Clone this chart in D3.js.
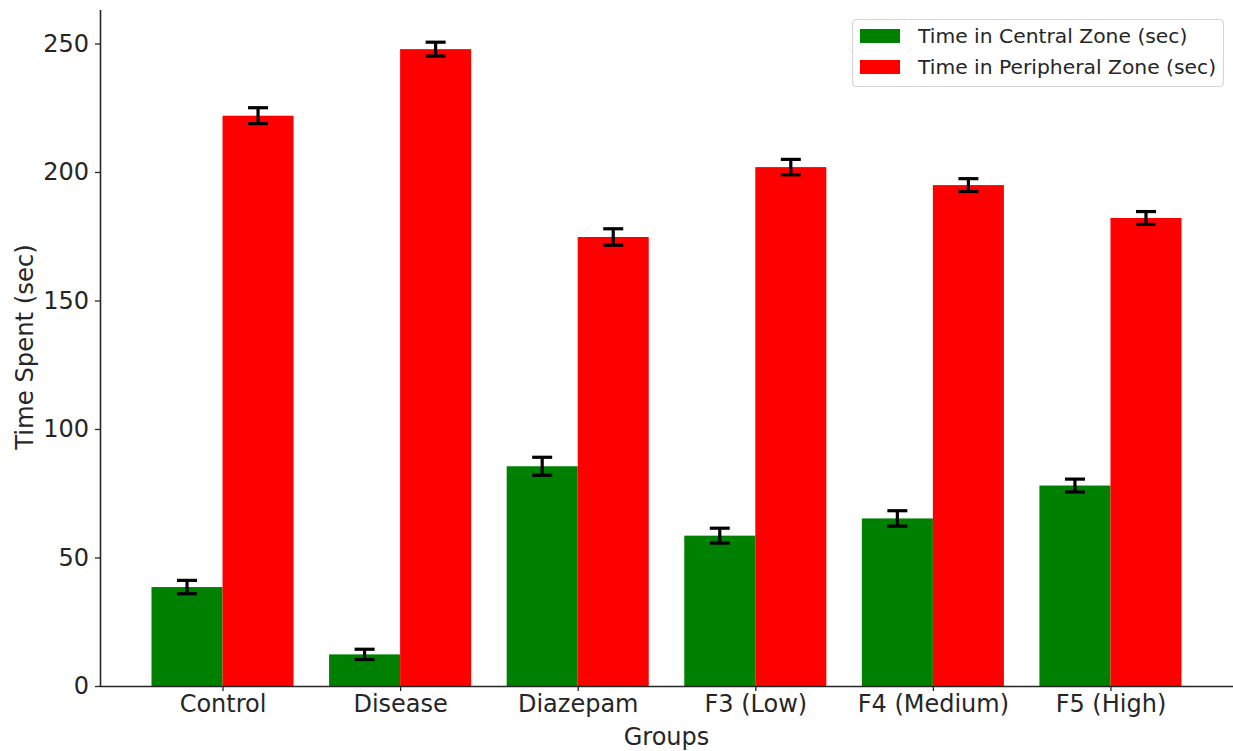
<!DOCTYPE html>
<html>
<head>
<meta charset="utf-8">
<script src="https://cdn.jsdelivr.net/npm/d3@7"></script>
<style>
  html, body { margin: 0; padding: 0; background: #fff; }
  svg { display: block; font-family: "DejaVu Sans", sans-serif; }
</style>
</head>
<body>
<svg id="chart" width="1233" height="751"></svg>
<script>
// Open-field test: time spent per zone for each treatment group
const groups = ["Control", "Disease", "Diazepam", "F3 (Low)", "F4 (Medium)", "F5 (High)"];
const centralTime = [38.5, 12.3, 85.5, 58.5, 65.2, 78];
const centralErr = [2.6, 2, 3.5, 2.9, 3, 2.5];
const peripheralTime = [221.9, 247.8, 174.7, 201.9, 194.9, 182.1];
const peripheralErr = [3.1, 2.7, 3.2, 3, 2.5, 2.5];
const yTicks = [0, 50, 100, 150, 200, 250];
const seriesNames = ["Time in Central Zone (sec)", "Time in Peripheral Zone (sec)"];
const seriesColors = ["#008000", "#ff0000"];

const svg = d3.select("#chart");
const margin = { left: 100, right: 0, top: 10, bottom: 65 };
const W = 1233, H = 751;
const plotW = W - margin.left - margin.right;
const plotH = H - margin.top - margin.bottom;
const textColor = "#262626";

const g = svg.append("g").attr("transform", `translate(${margin.left},${margin.top})`);

// bars are 0.4 wide around integer positions, with 5% padding on each side
const barW = 0.4;
const xMin = -barW, xMax = groups.length - 1 + barW;
const pad = (xMax - xMin) * 0.05;
const x = d3.scaleLinear().domain([xMin - pad, xMax + pad]).range([0, plotW]);

const yTop = d3.max(peripheralTime.map((v, i) => v + peripheralErr[i])) * 1.05;
const y = d3.scaleLinear().domain([0, yTop]).range([plotH, 0]);

const series = [
  { vals: centralTime, errs: centralErr, offset: -barW / 2 },
  { vals: peripheralTime, errs: peripheralErr, offset: barW / 2 }
];

series.forEach((s, si) => {
  const sg = g.append("g");
  sg.selectAll("rect").data(s.vals).join("rect")
    .attr("x", (d, i) => x(i + s.offset - barW / 2))
    .attr("width", x(barW) - x(0))
    .attr("y", d => y(d))
    .attr("height", d => y(0) - y(d))
    .attr("fill", seriesColors[si]);

  const eg = g.append("g").attr("stroke", "#000").attr("stroke-width", 3.2);
  s.vals.forEach((v, i) => {
    const cx = x(i + s.offset);
    const lo = y(v - s.errs[i]), hi = y(v + s.errs[i]);
    eg.append("line").attr("x1", cx).attr("x2", cx).attr("y1", lo).attr("y2", hi);
    eg.append("line").attr("x1", cx - 10).attr("x2", cx + 10).attr("y1", lo).attr("y2", lo);
    eg.append("line").attr("x1", cx - 10).attr("x2", cx + 10).attr("y1", hi).attr("y2", hi);
  });
});

// axes
const xAxis = d3.axisBottom(x).tickValues(d3.range(groups.length))
  .tickFormat(i => groups[i]).tickSize(5).tickPadding(4);
const gx = g.append("g").attr("transform", `translate(0,${plotH})`).call(xAxis);
const yAxis = d3.axisLeft(y).tickValues(yTicks).tickSize(5).tickPadding(6);
const gy = g.append("g").call(yAxis);

[gx, gy].forEach(ax => {
  ax.select(".domain").attr("stroke", textColor).attr("stroke-width", 1.6);
  ax.selectAll(".tick line").attr("stroke", textColor).attr("stroke-width", 1.3);
  ax.selectAll(".tick text").attr("fill", textColor)
    .style("font-size", "24px").style("font-family", "DejaVu Sans, sans-serif");
});
gx.select(".domain").attr("d", `M0,0.5H${plotW}`);
gy.select(".domain").attr("d", `M0.5,${plotH}V0`);

// axis titles
svg.append("text").attr("x", margin.left + plotW / 2).attr("y", 745)
  .attr("text-anchor", "middle").attr("fill", textColor)
  .style("font-size", "24px").text("Groups");
svg.append("text").attr("transform", `translate(33,${margin.top + plotH / 2 - 1}) rotate(-90)`)
  .attr("text-anchor", "middle").attr("fill", textColor)
  .style("font-size", "24.3px").text("Time Spent (sec)");

// legend
const lg = svg.append("g").attr("transform", "translate(852,19)");
lg.append("rect").attr("x", 0.5).attr("y", 0.5).attr("width", 371).attr("height", 67)
  .attr("rx", 4).attr("fill", "#fff").attr("fill-opacity", 0.8)
  .attr("stroke", "#d6d6d6").attr("stroke-width", 1.2);
seriesNames.forEach((name, i) => {
  const row = lg.append("g").attr("transform", `translate(0,${10 + i * 31})`);
  row.append("rect").attr("x", 8).attr("y", 0).attr("width", 40).attr("height", 14)
    .attr("fill", seriesColors[i]);
  row.append("text").attr("x", 66).attr("y", 14).attr("fill", textColor)
    .style("font-size", "20.3px").text(name);
});
</script>
</body>
</html>
